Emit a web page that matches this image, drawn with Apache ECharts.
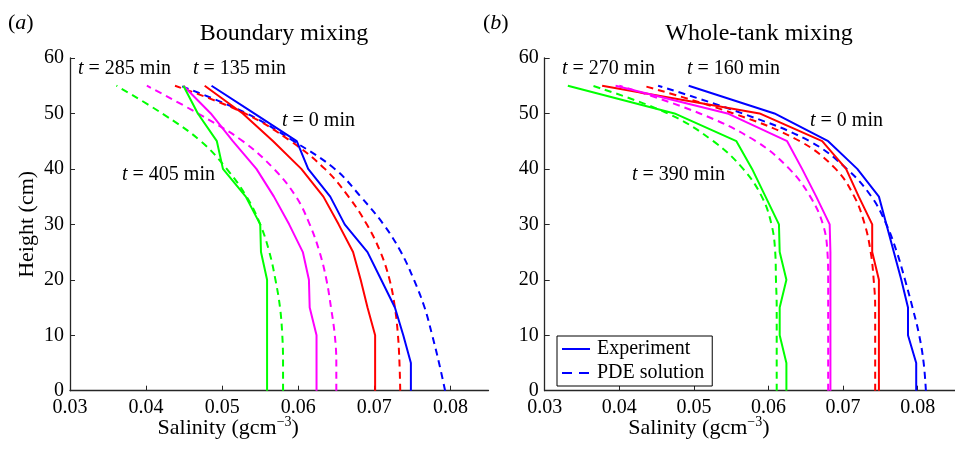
<!DOCTYPE html>
<html>
<head>
<meta charset="utf-8">
<script src="https://cdn.jsdelivr.net/npm/echarts@6/dist/echarts.min.js"></script>
<style>
html,body{margin:0;padding:0;background:#fff;}
#chart{width:955px;height:453px;}
</style>
</head>
<body>
<div id="chart"></div>
<script>
// ---- data ----
var heights = [0, 5, 10, 15, 20, 25, 30, 35, 40, 45, 50, 55];
var xTicks = [0.03, 0.04, 0.05, 0.06, 0.07, 0.08];
var yTicks = [0, 10, 20, 30, 40, 50, 60];

// (a) Boundary mixing
var aExp0   = [0.0748, 0.0748, 0.0738, 0.0727, 0.0709, 0.0691, 0.0661, 0.0642, 0.0613, 0.0598, 0.0542, 0.0486];
var aPde0   = [0.0793, 0.0785, 0.0776, 0.0766, 0.0752, 0.0735, 0.0712, 0.0682, 0.0648, 0.0594, 0.0532, 0.0445];
var aExp135 = [0.0701, 0.0701, 0.0701, 0.0691, 0.0682, 0.0672, 0.0653, 0.0633, 0.0604, 0.0567, 0.0527, 0.0477];
var aPde135 = [0.0734, 0.0733, 0.0731, 0.0727, 0.0720, 0.0708, 0.0690, 0.0666, 0.0635, 0.0590, 0.0530, 0.0438];
var aExp285 = [0.0624, 0.0624, 0.0624, 0.0615, 0.0614, 0.0606, 0.0588, 0.0568, 0.0545, 0.0514, 0.0485, 0.0449];
var aPde285 = [0.0650, 0.0650, 0.0648, 0.0643, 0.0637, 0.0628, 0.0615, 0.0597, 0.0568, 0.0527, 0.0468, 0.0401];
var aExp405 = [0.0559, 0.0559, 0.0559, 0.0559, 0.0559, 0.0551, 0.0550, 0.0531, 0.0501, 0.0493, 0.0468, 0.0449];
var aPde405 = [0.0580, 0.0580, 0.0579, 0.0576, 0.0570, 0.0562, 0.0550, 0.0532, 0.0506, 0.0472, 0.0421, 0.0361];

// (b) Whole-tank mixing
var bExp0   = [0.0798, 0.0798, 0.0787, 0.0787, 0.0778, 0.0768, 0.0758, 0.0748, 0.0719, 0.0680, 0.0608, 0.0493];
var bPde0   = [0.0811, 0.0808, 0.0802, 0.0793, 0.0783, 0.0772, 0.0758, 0.0738, 0.0705, 0.0655, 0.0565, 0.0452];
var bExp160 = [0.0748, 0.0748, 0.0748, 0.0748, 0.0748, 0.0739, 0.0739, 0.0721, 0.0704, 0.0672, 0.0588, 0.0377];
var bPde160 = [0.0743, 0.0743, 0.0743, 0.0743, 0.0741, 0.0737, 0.0729, 0.0715, 0.0690, 0.0642, 0.0553, 0.0432];
var bExp270 = [0.0683, 0.0683, 0.0683, 0.0683, 0.0683, 0.0683, 0.0682, 0.0664, 0.0645, 0.0625, 0.0545, 0.0395];
var bPde270 = [0.0680, 0.0680, 0.0680, 0.0680, 0.0680, 0.0679, 0.0673, 0.0656, 0.0628, 0.0583, 0.0508, 0.0400];
var bExp390 = [0.0624, 0.0624, 0.0615, 0.0615, 0.0624, 0.0615, 0.0614, 0.0596, 0.0578, 0.0557, 0.0474, 0.0331];
var bPde390 = [0.0611, 0.0611, 0.0611, 0.0611, 0.0610, 0.0609, 0.0604, 0.0591, 0.0566, 0.0526, 0.0465, 0.0364];

var titles = ['Boundary mixing', 'Whole-tank mixing'];
var panelLabels = ['a', 'b'];
var aNotes = ['285', '135', '0', '405'];
var bNotes = ['270', '160', '0', '390'];
var xName = 'Salinity (gcm';
var yName = 'Height (cm)';
var legendNames = ['Experiment', 'PDE solution'];

// ---- chart ----
var FONT = '"Liberation Serif", "Times New Roman", serif';
var BLUE = '#0000ff', RED = '#ff0000', MAG = '#ff00ff', GRN = '#00ff00';
var AX = '#262626';

function pts(vals) { return heights.map(function (h, i) { return [vals[i], h]; }); }
function mk(name, vals, color, dashed, idx) {
  return {
    name: name, type: 'line', xAxisIndex: idx, yAxisIndex: idx,
    data: pts(vals), symbol: 'none', showSymbol: false, smooth: dashed ? 0.4 : false,
    lineStyle: { color: color, width: 2, type: dashed ? [7, 5] : 'solid' },
    itemStyle: { color: color }, silent: true, animation: false, z: dashed ? 2 : 3
  };
}

function xAxis(idx) {
  return {
    type: 'value', gridIndex: idx, min: 0.03, max: 0.085,
    name: xName + '{sup|\u22123})',
    nameLocation: 'middle', nameGap: 25, nameMoveOverlap: false,
    nameTextStyle: {
      fontFamily: FONT, fontSize: 22, color: '#000', padding: [0, 102, 0, 0],
      rich: { sup: { fontFamily: FONT, fontSize: 14, color: '#000', verticalAlign: 'top', padding: [0, 0, 12, 0] } }
    },
    axisLine: { show: true, lineStyle: { color: AX, width: 1.3 } },
    axisTick: { show: true, inside: true, length: 5, lineStyle: { color: AX }, customValues: xTicks },
    axisLabel: { customValues: xTicks, fontFamily: FONT, fontSize: 20, color: '#000', margin: 7,
      formatter: function (v) { return v.toFixed(2); } },
    splitLine: { show: false }
  };
}
function yAxis(idx, withName) {
  return {
    type: 'value', gridIndex: idx, min: 0, max: 60, interval: 10,
    name: withName ? yName : '', nameLocation: 'middle', nameGap: 32, nameRotate: 90,
    nameTextStyle: { fontFamily: FONT, fontSize: 22, color: '#000' },
    axisLine: { show: true, lineStyle: { color: AX, width: 1.3 } },
    axisTick: { show: true, inside: true, length: 5, lineStyle: { color: AX } },
    axisLabel: { fontFamily: FONT, fontSize: 20, color: '#000', margin: 6 },
    splitLine: { show: false }
  };
}

var chart = echarts.init(document.getElementById('chart'), null, { renderer: 'canvas' });

var series = [
  mk('a0', aExp0, BLUE, false, 0), mk('a0p', aPde0, BLUE, true, 0),
  mk('a135', aExp135, RED, false, 0), mk('a135p', aPde135, RED, true, 0),
  mk('a285', aExp285, MAG, false, 0), mk('a285p', aPde285, MAG, true, 0),
  mk('a405', aExp405, GRN, false, 0), mk('a405p', aPde405, GRN, true, 0),
  mk(legendNames[0], bExp0, BLUE, false, 1), mk(legendNames[1], bPde0, BLUE, true, 1),
  mk('b160', bExp160, RED, false, 1), mk('b160p', bPde160, RED, true, 1),
  mk('b270', bExp270, MAG, false, 1), mk('b270p', bPde270, MAG, true, 1),
  mk('b390', bExp390, GRN, false, 1), mk('b390p', bPde390, GRN, true, 1)
];

var richT = { i: { fontFamily: FONT, fontStyle: 'italic', fontSize: 20, fill: '#000' } };
function note(txt, left, top) {
  return { type: 'text', left: left, top: top, silent: true,
    style: { text: '{i|t} = ' + txt + ' min', font: '20px ' + FONT, fill: '#000', rich: richT } };
}
function panel(letter, left) {
  return { type: 'text', left: left, top: 12, silent: true,
    style: { text: '(' + '{i|' + letter + '})', font: '22px ' + FONT, fill: '#000',
      rich: { i: { fontFamily: FONT, fontStyle: 'italic', fontSize: 22, fill: '#000' } } } };
}

chart.setOption({
  animation: false,
  backgroundColor: '#fff',
  title: [
    { text: titles[0], left: 279, top: 17, textAlign: 'center',
      textStyle: { fontFamily: FONT, fontSize: 24, fontWeight: 'normal', color: '#000' } },
    { text: titles[1], left: 754, top: 17, textAlign: 'center',
      textStyle: { fontFamily: FONT, fontSize: 24, fontWeight: 'normal', color: '#000' } }
  ],
  grid: [
    { left: 70, top: 58, width: 418.5, height: 332.7, containLabel: false },
    { left: 544.7, top: 58, width: 418, height: 332.7, containLabel: false }
  ],
  xAxis: [xAxis(0), xAxis(1)],
  yAxis: [yAxis(0, true), yAxis(1, false)],
  legend: {
    data: [
      { name: legendNames[0], icon: 'path://M0,0H28V2H0Z' },
      { name: legendNames[1], icon: 'path://M0,0H10V2H0Z M17,0H27V2H17Z M27.9,0H28V0.05H27.9Z' }
    ],
    orient: 'vertical', left: 557, top: 336,
    backgroundColor: '#fff', borderColor: '#000', borderWidth: 1,
    padding: [3, 8, 3, 5], itemGap: 4, itemWidth: 28, itemHeight: 2,
    itemStyle: { color: BLUE, borderWidth: 0 },
    textStyle: { fontFamily: FONT, fontSize: 20, color: '#000', padding: [0, 0, 0, 2] },
    selectedMode: false
  },
  series: series,
  graphic: [
    panel(panelLabels[0], 8), panel(panelLabels[1], 483),
    note(aNotes[0], 78, 59), note(aNotes[1], 193, 59), note(aNotes[2], 282, 111), note(aNotes[3], 122, 165),
    note(bNotes[0], 562, 59), note(bNotes[1], 687, 59), note(bNotes[2], 810, 111), note(bNotes[3], 632, 165)
  ]
});
</script>
</body>
</html>
